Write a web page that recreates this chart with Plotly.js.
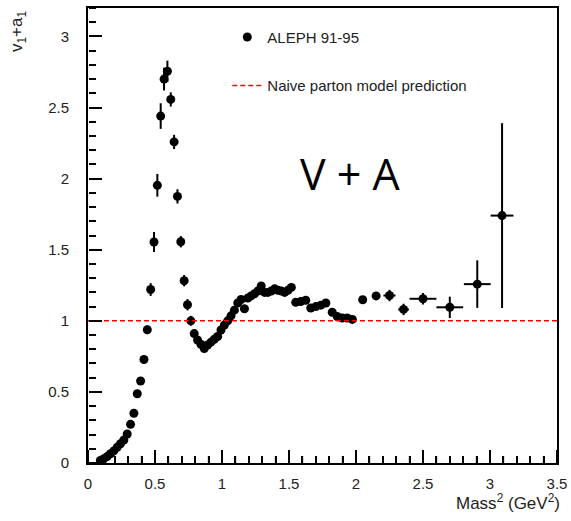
<!DOCTYPE html>
<html>
<head>
<meta charset="utf-8">
<script src="https://cdn.plot.ly/plotly-3.0.1.min.js"></script>
<style>html,body{margin:0;padding:0;background:#fff;}#chart{width:571px;height:521px;}</style>
</head>
<body>
<div id="chart"></div>
<script>
// ALEPH 91-95 V+A spectral function
const mass2 = [0.0925,0.1175,0.1425,0.1675,0.1925,0.2175,0.2425,0.2675,0.2925,0.3175,
  0.3425,0.3675,0.3925,0.4175,0.4425,0.4675,0.4925,0.5175,0.5425,0.5675,
  0.5925,0.6175,0.6425,0.6675,0.6925,0.7175,0.7425,0.7675,0.7925,0.8175,
  0.8425,0.8675,0.8925,0.9175,0.9425,0.9675,0.9925,1.0175,1.0425,1.0675,
  1.0925,1.1175,1.1425,1.1675,1.1925,1.2175,1.2425,1.2675,1.2925,1.3175,
  1.3425,1.3675,1.3925,1.4175,1.4425,1.4675,1.4925,1.5175,1.55,1.5875,
  1.625,1.6625,1.7,1.7375,1.775,1.8225,1.86,1.8975,1.935,1.9725,
  2.05,2.15,2.25,2.355,2.50,2.70,2.905,3.09];
const vPlusA = [0.018,0.03,0.045,0.065,0.085,0.11,0.135,0.162,0.204,0.272,
  0.35,0.487,0.577,0.728,0.937,1.22,1.554,1.953,2.44,2.70,
  2.755,2.557,2.258,1.875,1.556,1.282,1.113,1.0,0.91,0.865,
  0.835,0.805,0.83,0.85,0.87,0.89,0.935,0.97,1.0,1.035,
  1.075,1.125,1.15,1.085,1.16,1.175,1.19,1.21,1.245,1.2,
  1.2,1.21,1.225,1.215,1.21,1.2,1.215,1.235,1.13,1.135,
  1.145,1.09,1.1,1.11,1.125,1.06,1.03,1.02,1.02,1.01,
  1.148,1.175,1.178,1.08,1.155,1.095,1.258,1.74];
const errY = [0.005,0.005,0.006,0.006,0.007,0.008,0.008,0.009,0.01,0.012,
  0.014,0.016,0.018,0.02,0.03,0.045,0.07,0.08,0.09,0.08,
  0.075,0.05,0.05,0.05,0.04,0.04,0.04,0.035,0.025,0.02,
  0.02,0.02,0.02,0.02,0.02,0.02,0.02,0.02,0.02,0.02,
  0.02,0.02,0.02,0.02,0.02,0.02,0.02,0.02,0.02,0.02,
  0.02,0.02,0.02,0.02,0.02,0.02,0.02,0.02,0.02,0.02,
  0.02,0.02,0.02,0.02,0.02,0.02,0.02,0.02,0.02,0.02,
  0.02,0.025,0.04,0.04,0.04,0.075,0.167,0.65];
const errX = [0.0125,0.0125,0.0125,0.0125,0.0125,0.0125,0.0125,0.0125,0.0125,0.0125,
  0.0125,0.0125,0.0125,0.0125,0.0125,0.0125,0.0125,0.0125,0.0125,0.0125,
  0.0125,0.0125,0.0125,0.0125,0.0125,0.0125,0.0125,0.0125,0.0125,0.0125,
  0.0125,0.0125,0.0125,0.0125,0.0125,0.0125,0.0125,0.0125,0.0125,0.0125,
  0.0125,0.0125,0.0125,0.0125,0.0125,0.0125,0.0125,0.0125,0.0125,0.0125,
  0.0125,0.0125,0.0125,0.0125,0.0125,0.0125,0.0125,0.0125,0.018,0.018,
  0.018,0.018,0.018,0.018,0.018,0.018,0.018,0.018,0.018,0.018,
  0.025,0.03,0.045,0.04,0.1,0.1,0.1,0.085];
const partonX = [0, 3.5];
const partonY = [1, 1];
const xRange = [0, 3.5];
const yRange = [0, 3.2];

const FONT = 'Liberation Sans, Arial, sans-serif';

const traces = [
  {
    x: mass2, y: vPlusA, type: 'scatter', mode: 'markers',
    name: 'ALEPH 91-95', legendgroup: 'a',
    marker: {color: '#000', size: 9},
    error_y: {type: 'data', array: errY, visible: true, color: '#000', thickness: 2, width: 0},
    error_x: {type: 'data', array: errX, visible: true, color: '#000', thickness: 2, width: 0}
  },
  {
    x: partonX, y: partonY, type: 'scatter', mode: 'lines',
    xaxis: 'x2', yaxis: 'y2',
    name: 'Naive parton model prediction', legendgroup: 'b',
    line: {color: '#ff0000', width: 1.5, dash: '5px,3px'}
  }
];

// main axes: frame + labels
const mainAxis = {
  showline: true, linecolor: '#000', linewidth: 2, mirror: true,
  ticks: '', tick0: 0, dtick: 0.5, showgrid: false, zeroline: false,
  tickfont: {family: FONT, size: 15, color: '#222'}
};
// overlay axes: ticks pointing into the plot
const tickAxis = {
  showline: false, showticklabels: false, showgrid: false, zeroline: false,
  ticks: 'outside', ticklen: 13, tickwidth: 2, tickcolor: '#000',
  tick0: 0, dtick: 0.5, anchor: 'free', position: 0,
  minor: {ticks: 'outside', dtick: 0.1, tick0: 0, ticklen: 7, tickwidth: 1.5, tickcolor: '#000', showgrid: false}
};

// x-axis tick marks pointing into the plot (decoration along the bottom frame)
const plotHeightPx = 521 - 8 - 58;
const xTickShapes = [];
for (let i = 0; i <= 35; i++) {
  const major = (i % 5 === 0);
  xTickShapes.push({
    type: 'line', xref: 'x', yref: 'paper', layer: 'above',
    x0: i / 10, x1: i / 10, y0: 0, y1: (major ? 13 : 7) / plotHeightPx,
    line: {color: '#000', width: major ? 2 : 1.5}
  });
}

const layout = {
  width: 571, height: 521,
  margin: {l: 88, r: 14, t: 8, b: 58},
  paper_bgcolor: '#fff', plot_bgcolor: '#fff',
  font: {family: FONT, color: '#222'},
  xaxis: Object.assign({}, mainAxis, {range: xRange, ticklabelstandoff: 6}),
  yaxis: Object.assign({}, mainAxis, {range: yRange, ticklabelstandoff: 14}),
  xaxis2: Object.assign({}, tickAxis, {range: xRange, overlaying: 'x', side: 'top'}),
  yaxis2: Object.assign({}, tickAxis, {range: yRange, overlaying: 'y', side: 'right'}),
  shapes: xTickShapes,
  showlegend: true,
  legend: {
    x: 0.297, y: 0.972, xanchor: 'left', yanchor: 'top',
    bgcolor: 'rgba(0,0,0,0)', borderwidth: 0,
    traceorder: 'grouped', tracegroupgap: 26,
    font: {family: FONT, size: 15, color: '#222'}
  },
  annotations: [
    {text: 'V + A', xref: 'paper', yref: 'paper', x: 0.56, y: 0.637,
     showarrow: false, font: {family: 'Open Sans, sans-serif', size: 43, color: '#000'}},
    {text: 'Mass<sup>2</sup> (GeV<sup>2</sup>)', xref: 'paper', yref: 'paper',
     x: 1.01, y: -0.085, xanchor: 'right', yanchor: 'middle', showarrow: false,
     font: {family: FONT, size: 17, color: '#222'}},
    {text: 'v<sub>1</sub>+a<sub>1</sub>', xref: 'paper', yref: 'paper',
     x: -0.149, y: 1.0, xanchor: 'center', yanchor: 'top', textangle: -90, showarrow: false,
     font: {family: FONT, size: 17, color: '#222'}}
  ]
};

Plotly.newPlot('chart', traces, layout, {displayModeBar: false});
</script>
</body>
</html>
